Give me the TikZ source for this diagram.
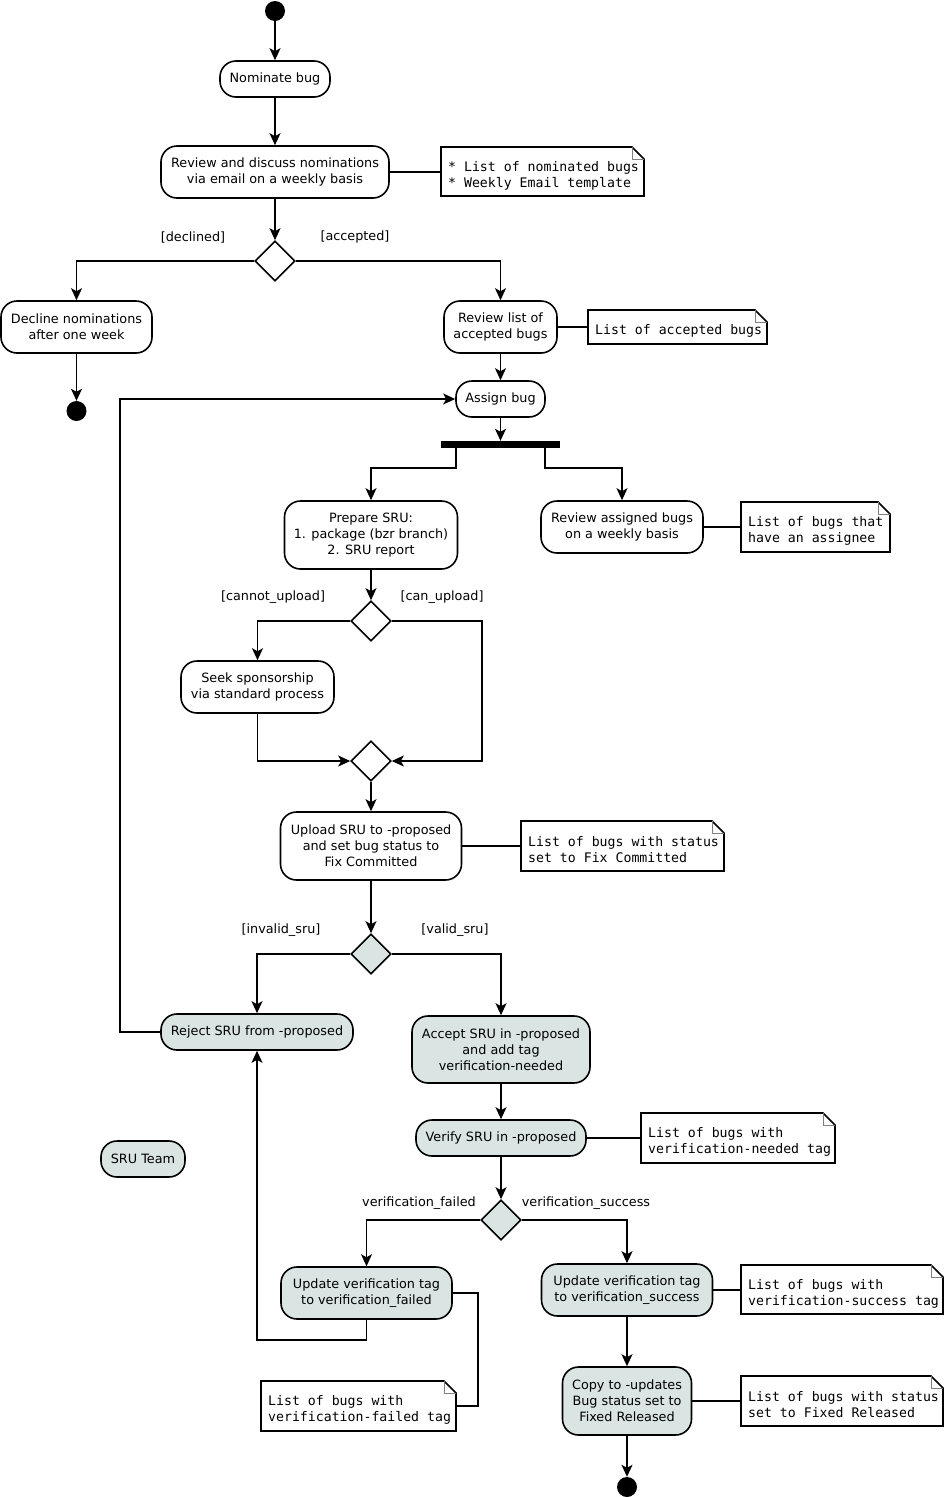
\documentclass[tikz,border=0pt]{standalone}
\usepackage{fontspec}
\setmainfont{DejaVu Sans}
\newfontfamily\notefont{DejaVu Sans Mono}
\newcommand\notefontsel{\notefont\fontsize{13.2}{16}\selectfont\spaceskip 0.602em\relax}
\usetikzlibrary{arrows.meta,shapes.geometric}
\definecolor{srufill}{HTML}{D9E4E3}
\tikzset{
 act/.style={draw, line width=1.6pt, rounded corners=16pt, align=center, inner sep=0pt, font=\fontsize{12.8}{16}\selectfont, fill=white},
 sru/.style={act, fill=srufill},
 decision/.style={draw, diamond, line width=1.6pt, minimum width=40pt, minimum height=40pt, inner sep=0pt, fill=white},
 noteframe/.style={inner sep=0pt, outer sep=0pt},
 notetext/.style={inner sep=0pt, anchor=west, align=left, font=\notefontsel},
 arr/.style={line width=1.6pt, -{Stealth[length=12pt,width=11pt,inset=3pt]}},
 link/.style={line width=1.6pt},
 guard/.style={font=\fontsize{12.8}{16}\selectfont, inner sep=0pt},
 blackdot/.style={circle, fill=black, minimum size=20pt, inner sep=0pt},
}
\begin{document}
\begin{tikzpicture}[x=1pt,y=-1pt]
\useasboundingbox (0,0) rectangle (944,1497);
% start / end
\node[blackdot] (start) at (275,11) {};
\node[blackdot] (end1) at (76.5,411) {};
\node[blackdot] (end2) at (627,1487) {};
% activities
\node[act, minimum width=110pt, minimum height=36pt] (nom) at (275,79) {Nominate bug};
\node[act, minimum width=228pt, minimum height=52pt] (rev) at (275,172) {Review and discuss nominations\\via email on a weekly basis};
\node[decision] (d1) at (275,261) {};
\node[act, minimum width=151pt, minimum height=52pt] (dec) at (76.5,327) {Decline nominations\\after one week};
\node[act, minimum width=113pt, minimum height=52pt] (ral) at (500.5,327) {Review list of\\accepted bugs};
\node[act, minimum width=89pt, minimum height=36pt] (assign) at (500.5,399) {Assign bug};
\node[fill=black, minimum width=119pt, minimum height=7pt, inner sep=0pt] (bar) at (500.5,444.5) {};
\node[act, minimum width=173pt, minimum height=68pt] (prep) at (371,535) {Prepare SRU:\\1. package (bzr branch)\\2. SRU report};
\node[act, minimum width=162pt, minimum height=52pt] (rab) at (622,527) {Review assigned bugs\\on a weekly basis};
\node[decision] (d2) at (371,621) {};
\node[act, minimum width=153pt, minimum height=52pt] (seek) at (257.5,687) {Seek sponsorship\\via standard process};
\node[decision] (d3) at (371,761) {};
\node[act, minimum width=181pt, minimum height=68pt] (up) at (371,846) {Upload SRU to -proposed\\and set bug status to\\Fix Committed};
\node[decision, fill=srufill] (d4) at (371,954) {};
\node[sru, minimum width=192pt, minimum height=36pt] (rej) at (257,1032) {Reject SRU from -proposed};
\node[sru, minimum width=178pt, minimum height=67pt] (acc) at (501,1049.5) {Accept SRU in -proposed\\and add tag\\verification-needed};
\node[sru, minimum width=170pt, minimum height=36pt] (ver) at (501,1138) {Verify SRU in -proposed};
\node[decision, fill=srufill] (d5) at (501,1220) {};
\node[sru, minimum width=171pt, minimum height=52pt] (uf) at (366.5,1293) {Update verification tag\\to verification\_failed};
\node[sru, minimum width=171pt, minimum height=52pt] (us) at (627,1290) {Update verification tag\\to verification\_success};
\node[sru, minimum width=129pt, minimum height=68pt] (cp) at (627,1401) {Copy to -updates\\Bug status set to\\Fixed Released};
\node[sru, minimum width=84pt, minimum height=36pt] (team) at (143,1159) {SRU Team};
% note frames
\node[noteframe, minimum width=203pt, minimum height=49pt] (n1) at (542.5,171.5) {};
\node[noteframe, minimum width=179pt, minimum height=34pt] (n2) at (677.5,327) {};
\node[noteframe, minimum width=149pt, minimum height=50pt] (n3) at (815.5,527) {};
\node[noteframe, minimum width=203pt, minimum height=50pt] (n4) at (622.5,846) {};
\node[noteframe, minimum width=194pt, minimum height=50pt] (n5) at (738,1138) {};
\node[noteframe, minimum width=195pt, minimum height=50pt] (n6) at (358.5,1406) {};
\node[noteframe, minimum width=202pt, minimum height=49pt] (n7) at (842,1289.5) {};
\node[noteframe, minimum width=202pt, minimum height=50pt] (n8) at (842,1401) {};
\foreach \n in {n1,n2,n3,n4,n5,n6,n7,n8} {
 \draw[line width=1.6pt] (\n.south west) -- (\n.north west) -- ([xshift=-12pt]\n.north east) -- ([yshift=-12pt]\n.north east) -- (\n.south east) -- cycle;
 \draw[gray, line width=1pt] ([xshift=-12pt]\n.north east) -- ([xshift=-12pt,yshift=-12pt]\n.north east) -- ([yshift=-12pt]\n.north east);
}
% note texts
\node[notetext] (n1t) at ([xshift=7pt,yshift=-4pt]n1.west) {* List of nominated bugs\\{*} Weekly Email template};
\node[notetext] (n2t) at ([xshift=7pt,yshift=-4pt]n2.west) {List of accepted bugs};
\node[notetext] (n3t) at ([xshift=7pt,yshift=-4pt]n3.west) {List of bugs that\\have an assignee};
\node[notetext] (n4t) at ([xshift=7pt,yshift=-4pt]n4.west) {List of bugs with status\\set to Fix Committed};
\node[notetext] (n5t) at ([xshift=7pt,yshift=-4pt]n5.west) {List of bugs with\\verification-needed tag};
\node[notetext] (n6t) at ([xshift=7pt,yshift=-4pt]n6.west) {List of bugs with\\verification-failed tag};
\node[notetext] (n7t) at ([xshift=7pt,yshift=-4pt]n7.west) {List of bugs with\\verification-success tag};
\node[notetext] (n8t) at ([xshift=7pt,yshift=-4pt]n8.west) {List of bugs with status\\set to Fixed Released};
% guards
\node[guard] (g1) at (193,237) {[declined]};
\node[guard] (g2) at (355,237) {[accepted]};
\node[guard] (g3) at (273,597) {[cannot\_upload]};
\node[guard] (g4) at (442,597) {[can\_upload]};
\node[guard] (g5) at (281,930) {[invalid\_sru]};
\node[guard] (g6) at (455,930) {[valid\_sru]};
\node[guard] (g7) at (419,1203) {verification\_failed};
\node[guard] (g8) at (586,1203) {verification\_success};
% flows
\draw[arr] (start) -- (nom);
\draw[arr] (nom) -- (rev);
\draw[arr] (rev) -- (d1);
\draw[arr] (d1.west) -| (dec.north);
\draw[arr] (d1.east) -| (ral.north);
\draw[arr] (dec) -- (end1);
\draw[arr] (ral) -- (assign);
\draw[arr] (assign) -- (bar);
\draw[arr] ([xshift=15pt]bar.south west) -- ++(0,20) -| (prep.north);
\draw[arr] ([xshift=-15pt]bar.south east) -- ++(0,20) -| (rab.north);
\draw[arr] (prep) -- (d2);
\draw[arr] (d2.west) -| (seek.north);
\draw[arr] (d2.east) -- ++(90,0) |- (d3.east);
\draw[arr] (seek.south) |- (d3.west);
\draw[arr] (d3) -- (up);
\draw[arr] (up) -- (d4);
\draw[arr] (d4.west) -| (rej.north);
\draw[arr] (d4.east) -| (acc.north);
\draw[arr] (rej.west) -- ++(-40,0) |- (assign.west);
\draw[arr] (acc) -- (ver);
\draw[arr] (ver) -- (d5);
\draw[arr] (d5.west) -| (uf.north);
\draw[arr] (d5.east) -| (us.north);
\draw[arr] (uf.south) -- ++(0,20) -| (rej.south);
\draw[arr] (us) -- (cp);
\draw[arr] (cp) -- (end2);
% note links
\draw[link] (rev.east) -- (rev.east -| n1.west);
\draw[link] (ral.east) -- (ral.east -| n2.west);
\draw[link] (rab.east) -- (rab.east -| n3.west);
\draw[link] (up.east) -- (up.east -| n4.west);
\draw[link] (ver.east) -- (ver.east -| n5.west);
\draw[link] (uf.east) -- ++(25,0) |- (n6.east);
\draw[link] (us.east) -- (us.east -| n7.west);
\draw[link] (cp.east) -- (cp.east -| n8.west);
\end{tikzpicture}
\end{document}
